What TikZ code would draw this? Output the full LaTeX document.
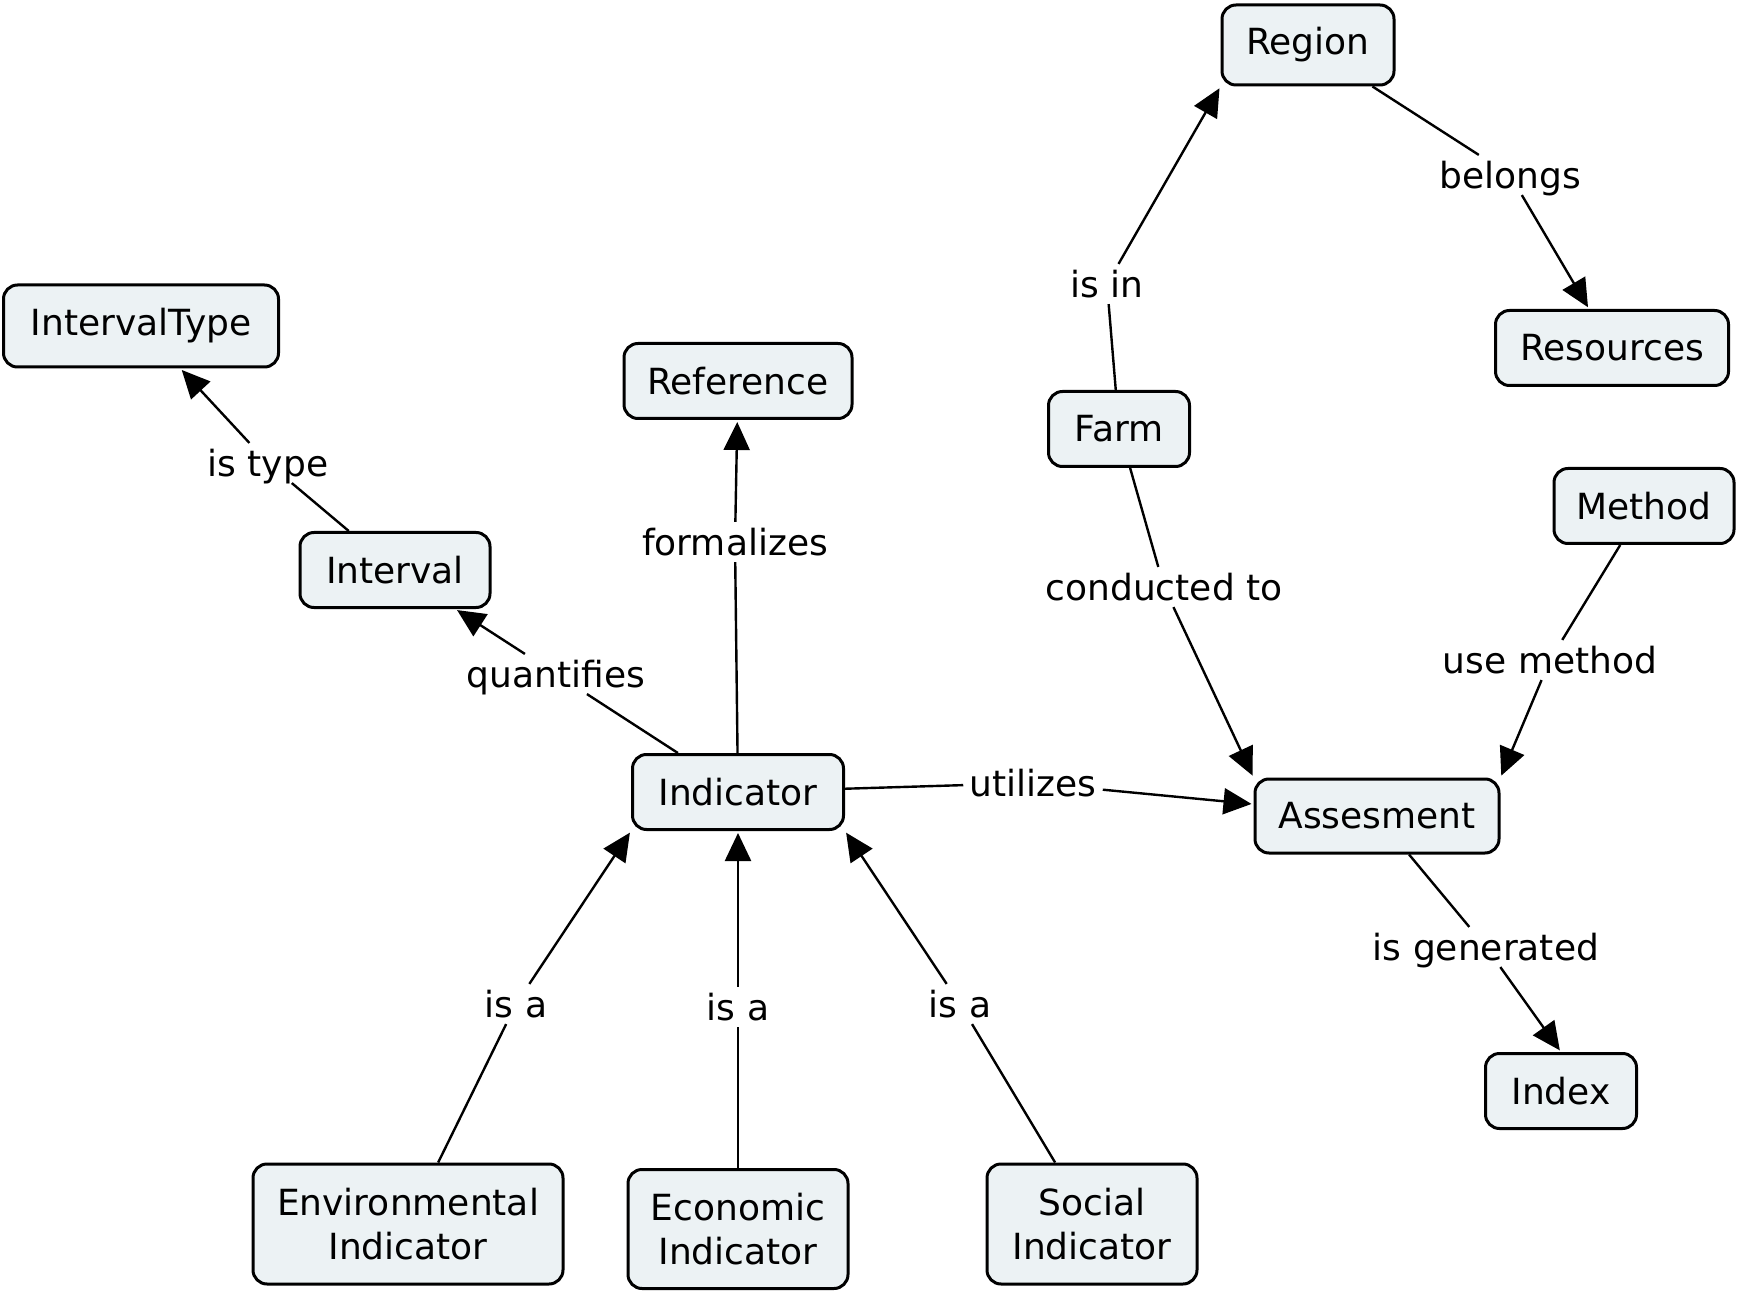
\documentclass[tikz,border=0pt]{standalone}
\usepackage{fontspec}
\setmainfont{DejaVu Sans}
\usetikzlibrary{arrows.meta}
\definecolor{boxfill}{HTML}{ECF2F4}
\begin{document}
\begin{tikzpicture}[x=0.5pt,y=-0.5pt,
  concept/.style={draw=black, line width=1.5pt, fill=boxfill, rounded corners=7pt,
    align=center, inner sep=0pt, font=\fontsize{18}{21.6}\selectfont},
  lbl/.style={inner sep=3pt, text depth=0pt, font=\fontsize{18}{21.6}\selectfont},
  link/.style={line width=1.2pt},
  arr/.style={line width=1.2pt, -{Triangle[length=14pt,width=13pt]}, shorten >=1pt}]
\useasboundingbox (0,0) rectangle (1741,1294);
% concepts
\node[concept, minimum width=86pt, minimum height=40pt] (Region) at (1308,45) {Region};
\node[concept, minimum width=116.5pt, minimum height=37.5pt] (Resources) at (1612,348) {Resources};
\node[concept, minimum width=137.5pt, minimum height=41pt] (IntervalType) at (141,326) {IntervalType};
\node[concept, minimum width=114pt, minimum height=37.5pt] (Reference) at (738,381) {Reference};
\node[concept, minimum width=70.5pt, minimum height=37.5pt] (Farm) at (1119,429) {Farm};
\node[concept, minimum width=90pt, minimum height=37.5pt] (Method) at (1644,506) {Method};
\node[concept, minimum width=95pt, minimum height=37.5pt] (Interval) at (395,570) {Interval};
\node[concept, minimum width=105.5pt, minimum height=37.5pt] (Indicator) at (738,792) {Indicator};
\node[concept, minimum width=122pt, minimum height=37pt] (Assesment) at (1377,816) {Assesment};
\node[concept, minimum width=75.5pt, minimum height=37.5pt] (Index) at (1561,1091) {Index};
\node[concept, minimum width=155pt, minimum height=60pt] (Env) at (408,1224) {Environmental\\Indicator};
\node[concept, minimum width=110pt, minimum height=59.5pt] (Econ) at (738,1229) {Economic\\Indicator};
\node[concept, minimum width=105pt, minimum height=60pt] (Social) at (1092,1224) {Social\\Indicator};
% labels
\node[lbl] (isin) at (1107,284) {is in};
\node[lbl] (belongs) at (1510,175) {belongs};
\node[lbl] (istype) at (268,463) {is type};
\node[lbl] (formalizes) at (735,542) {formalizes};
\node[lbl] (quantifies) at (556,674) {quantifies};
\node[lbl] (utilizes) at (1033,783) {utilizes};
\node[lbl] (conducted) at (1164,587) {conducted to};
\node[lbl] (usemethod) at (1550,660) {use method};
\node[lbl] (isgen) at (1486,947) {is generated};
\node[lbl] (isaA) at (516,1004) {is a};
\node[lbl] (isaB) at (738,1007) {is a};
\node[lbl] (isaC) at (960,1004) {is a};
% connectors
\draw[link] (Farm) -- (isin);
\draw[arr] (isin) -- (Region.south west);
\draw[link] (Region) -- (belongs);
\draw[arr] (belongs) -- (Resources);
\draw[link] (Interval) -- (istype);
\draw[arr] (istype) -- (IntervalType);
\draw[link] (Indicator) -- (formalizes);
\draw[arr] (formalizes) -- (Reference);
\draw[link] (Indicator) -- (quantifies);
\draw[arr] (quantifies) -- (Interval);
\draw[link] (Indicator) -- (utilizes);
\draw[arr] (utilizes) -- (Assesment);
\draw[link] (Farm) -- (conducted);
\draw[arr] (conducted) -- (Assesment.north west);
\draw[link] (Method) -- (usemethod);
\draw[arr] (usemethod) -- (Assesment.north east);
\draw[link] (Assesment) -- (isgen);
\draw[arr] (isgen) -- (Index.north);
\draw[link] (Env) -- (isaA);
\draw[arr] (isaA) -- (Indicator.south west);
\draw[link] (Econ) -- (isaB);
\draw[arr] (isaB) -- (Indicator.south);
\draw[link] (Social) -- (isaC);
\draw[arr] (isaC) -- (Indicator.south east);
\end{tikzpicture}
\end{document}
